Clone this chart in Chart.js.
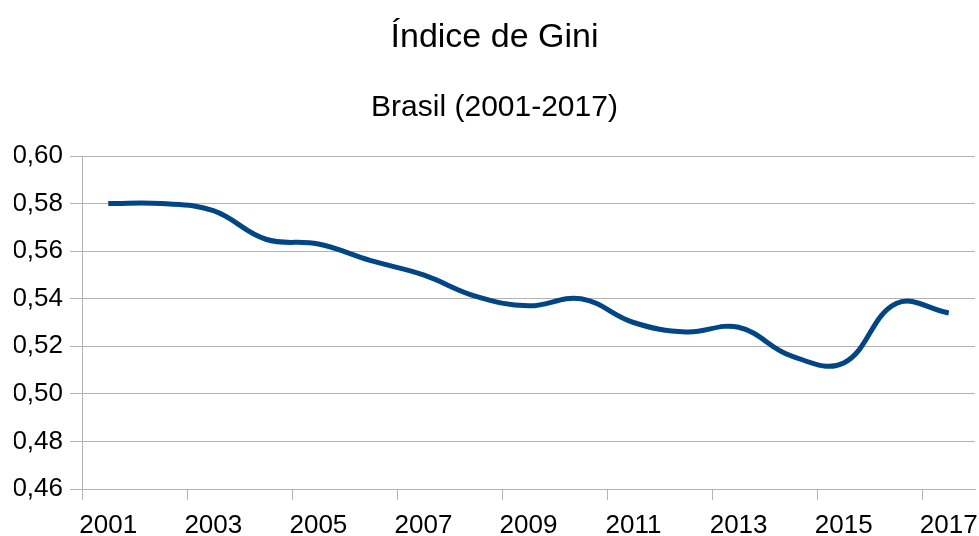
<!DOCTYPE html>
<html>
<head>
<meta charset="utf-8">
<script src="https://cdn.jsdelivr.net/npm/chart.js@4"></script>
<style>
  html, body { margin: 0; padding: 0; background: #fff; }
  #box { width: 979px; height: 536px; }
</style>
</head>
<body>
<div id="box"><canvas id="gini"></canvas></div>
<script>
// données
const anos = ['2001', '2002', '2003', '2004', '2005', '2006', '2007', '2008', '2009',
              '2010', '2011', '2012', '2013', '2014', '2015', '2016', '2017'];
const gini = [0.580, 0.580, 0.577, 0.565, 0.563, 0.556, 0.550, 0.541, 0.537,
              0.540, 0.530, 0.526, 0.528, 0.516, 0.513, 0.538, 0.534];
const yMin = 0.46;
const yMax = 0.60;
const yStep = 0.02;

const cinza = '#b3b3b3';
Chart.defaults.font.family = '"Liberation Sans", Arial, sans-serif';
Chart.defaults.color = '#000';

new Chart(document.getElementById('gini'), {
  type: 'line',
  data: {
    labels: anos,
    datasets: [{
      data: gini,
      borderColor: '#004586',
      borderWidth: 5,
      pointRadius: 0,
      tension: 0.4,
      fill: false
    }]
  },
  options: {
    responsive: true,
    maintainAspectRatio: false,
    animation: false,
    // padding gauche pour décaler les titres vers la droite
    layout: { padding: { left: 14, right: 4, top: 0, bottom: 0 } },
    plugins: {
      legend: { display: false },
      tooltip: { enabled: false },
      title: {
        display: true,
        text: 'Índice de Gini',
        font: { size: 34, weight: 'normal', lineHeight: 1.2 },
        padding: { top: 17, bottom: 0 }
      },
      subtitle: {
        display: true,
        text: 'Brasil (2001-2017)',
        color: '#000',
        font: { size: 30, weight: 'normal', lineHeight: 1.2 },
        padding: { top: 31.5, bottom: 30.7 }
      }
    },
    scales: {
      x: {
        offset: true,
        grid: {
          offset: true,
          drawOnChartArea: true,
          tickLength: 11,
          // seulement le bord droit dans la zone du graphique
          color: ctx => ctx.index === anos.length ? cinza : 'rgba(0,0,0,0)',
          tickColor: ctx => ctx.index % 2 === 0 && ctx.index < anos.length ? cinza : 'rgba(0,0,0,0)'
        },
        border: { display: true, color: cinza },
        ticks: {
          autoSkip: false,
          maxRotation: 0,
          padding: 10,
          font: { size: 26 },
          callback: function (value, index) {
            return index % 2 === 0 ? this.getLabelForValue(value) : '';
          }
        },
        afterFit: scale => {
          scale.height = 47;
          scale.paddingLeft = 0;
          scale.paddingRight = 0;
        }
      },
      y: {
        min: yMin,
        max: yMax,
        grid: { color: cinza, tickLength: 12 },
        border: { display: true, color: cinza },
        ticks: {
          stepSize: yStep,
          padding: 7,
          font: { size: 26 },
          callback: v => v.toFixed(2).replace('.', ',')
        },
        afterFit: scale => { scale.width = 68; }
      }
    }
  }
});
</script>
</body>
</html>
